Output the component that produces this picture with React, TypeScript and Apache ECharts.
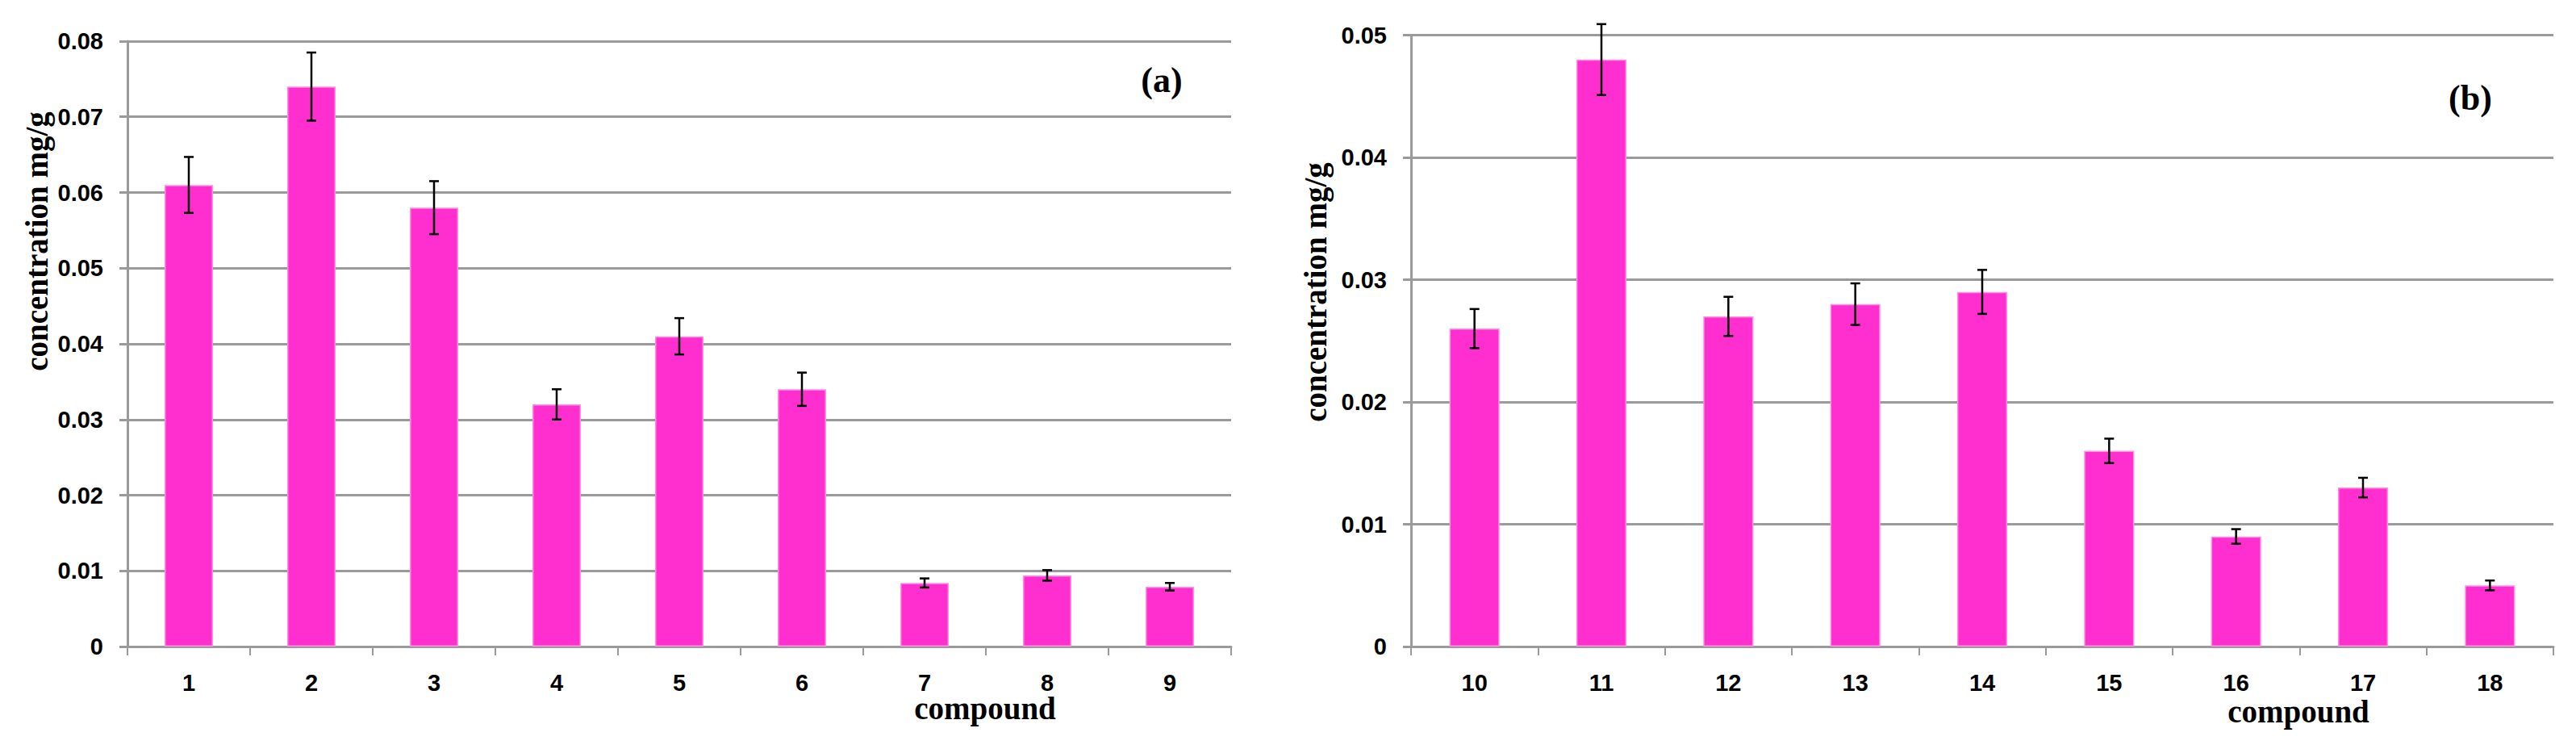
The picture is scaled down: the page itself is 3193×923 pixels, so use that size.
import React, { useEffect, useRef } from "react";
import * as echarts from "echarts";

const catsA = ["1", "2", "3", "4", "5", "6", "7", "8", "9"];
const valuesA = [0.061, 0.074, 0.058, 0.032, 0.041, 0.034, 0.0084, 0.0094, 0.0079];
const errA = [0.0037, 0.0045, 0.0035, 0.002, 0.0024, 0.0022, 0.0006, 0.0007, 0.0005];

const catsB = ["10", "11", "12", "13", "14", "15", "16", "17", "18"];
const valuesB = [0.026, 0.048, 0.027, 0.028, 0.029, 0.016, 0.009, 0.013, 0.005];
const errB = [0.0016, 0.0029, 0.0016, 0.0017, 0.0018, 0.001, 0.0006, 0.0008, 0.0004];

const yTitle = "concentration mg/g";
const xTitle = "compound";

const BAR = "#ff2fcf";
const GRID = "#9a9a9a";
const SANS = "'Liberation Sans', Arial, sans-serif";
const SERIF = "'Liberation Serif', 'Times New Roman', serif";

function errData(vals: number[], errs: number[]) {
  return vals.map((v, i) => [i, v - errs[i], v + errs[i]]);
}

const renderErr = (params: any, api: any) => {
  const x = api.value(0);
  const lo = api.coord([x, api.value(1)]);
  const hi = api.coord([x, api.value(2)]);
  const w = 6;
  const style = { stroke: "#000", lineWidth: 2.5 };
  return {
    type: "group",
    children: [
      { type: "line", shape: { x1: hi[0], y1: hi[1], x2: lo[0], y2: lo[1] }, style },
      { type: "line", shape: { x1: hi[0] - w, y1: hi[1], x2: hi[0] + w, y2: hi[1] }, style },
      { type: "line", shape: { x1: lo[0] - w, y1: lo[1], x2: lo[0] + w, y2: lo[1] }, style },
    ],
  };
};

function xAxisOpt(grid: number, cats: string[]) {
  return {
    type: "category",
    gridIndex: grid,
    data: cats,
    axisLine: { lineStyle: { color: GRID, width: 3 } },
    axisTick: { show: true, interval: 0, length: 11, lineStyle: { color: GRID, width: 2 } },
    axisLabel: { color: "#000", fontFamily: SANS, fontWeight: "bold", fontSize: 29, margin: 30, interval: 0 },
    splitLine: { show: false },
  };
}

function yAxisOpt(grid: number, max: number) {
  return {
    type: "value",
    gridIndex: grid,
    min: 0,
    max,
    interval: 0.01,
    axisLine: { show: true, lineStyle: { color: GRID, width: 3 } },
    axisTick: { show: true, length: 10, lineStyle: { color: GRID, width: 3 } },
    axisLabel: {
      color: "#000",
      fontFamily: SANS,
      fontWeight: "bold",
      fontSize: 29,
      margin: 30,
      formatter: (v: number) => (v === 0 ? "0" : v.toFixed(2)),
    },
    splitLine: { show: true, lineStyle: { color: GRID, width: 3 } },
  };
}

export default function App() {
  const ref = useRef<HTMLDivElement>(null);
  useEffect(() => {
    if (!ref.current) return;
    const chart = echarts.init(ref.current, null, { renderer: "svg" });
    const titleStyle = { fill: "#000", font: `bold 39px ${SERIF}`, align: "center", verticalAlign: "middle" };
    chart.setOption({
      animation: false,
      backgroundColor: "#fff",
      grid: [
        { left: 158, top: 51, width: 1368, height: 750 },
        { left: 1749, top: 43.5, width: 1416, height: 757.5 },
      ],
      xAxis: [xAxisOpt(0, catsA), xAxisOpt(1, catsB)],
      yAxis: [yAxisOpt(0, 0.08), yAxisOpt(1, 0.05)],
      series: [
        {
          type: "bar",
          xAxisIndex: 0,
          yAxisIndex: 0,
          data: valuesA,
          barWidth: "39.5%",
          itemStyle: { color: BAR, borderColor: "#ff8fe3", borderWidth: 1.5 },
        },
        {
          type: "custom",
          xAxisIndex: 0,
          yAxisIndex: 0,
          data: errData(valuesA, errA),
          encode: { x: 0, y: [1, 2] },
          renderItem: renderErr,
          z: 5,
        },
        {
          type: "bar",
          xAxisIndex: 1,
          yAxisIndex: 1,
          data: valuesB,
          barWidth: "39.5%",
          itemStyle: { color: BAR, borderColor: "#ff8fe3", borderWidth: 1.5 },
        },
        {
          type: "custom",
          xAxisIndex: 1,
          yAxisIndex: 1,
          data: errData(valuesB, errB),
          encode: { x: 0, y: [1, 2] },
          renderItem: renderErr,
          z: 5,
        },
      ],
      graphic: [
        { type: "text", x: 45, y: 299, rotation: Math.PI / 2, style: { ...titleStyle, text: yTitle } },
        { type: "text", x: 1630, y: 362, rotation: Math.PI / 2, style: { ...titleStyle, text: yTitle } },
        { type: "text", x: 1221, y: 877, style: { ...titleStyle, text: xTitle } },
        { type: "text", x: 2849, y: 881, style: { ...titleStyle, text: xTitle } },
        { type: "text", x: 1440, y: 99, style: { ...titleStyle, font: `bold 44px ${SERIF}`, text: "(a)" } },
        { type: "text", x: 3062, y: 121, style: { ...titleStyle, font: `bold 44px ${SERIF}`, text: "(b)" } },
      ],
    });
    return () => chart.dispose();
  }, []);
  return (
    <div
      ref={ref}
      style={{ position: "fixed", left: 0, top: 0, width: 3193, height: 923, background: "#fff" }}
    />
  );
}
